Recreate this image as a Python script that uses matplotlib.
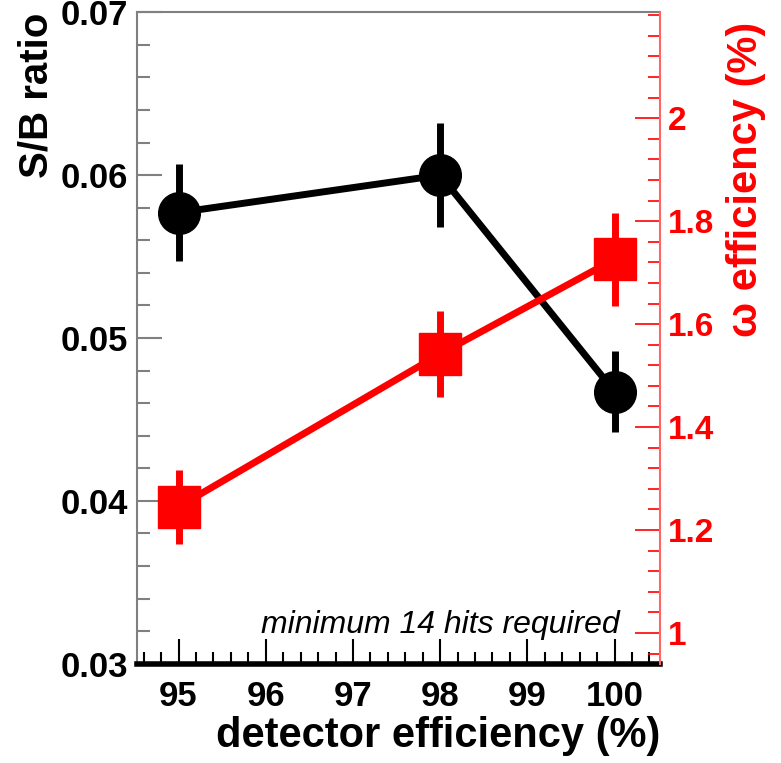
import matplotlib.pyplot as plt
from matplotlib.ticker import MultipleLocator

plt.rcParams["font.family"] = ["Liberation Sans", "DejaVu Sans"]

det_eff = [95, 98, 100]
sb_ratio = [0.0577, 0.0600, 0.0467]
sb_err = [0.0030, 0.0032, 0.0025]
omega_eff = [1.245, 1.542, 1.726]
omega_err = [0.072, 0.083, 0.090]

fig = plt.figure(figsize=(7.81, 7.63), dpi=100)
ax = fig.add_axes([0.175, 0.130, 0.670, 0.854])
ax2 = ax.twinx()

ax.set_xlim(94.52, 100.52)
ax.set_ylim(0.03, 0.07)
ax2.set_ylim(0.94, 2.206)

# black S/B series
ax.errorbar(det_eff, sb_ratio, yerr=sb_err, color="black", lw=5, elinewidth=5,
            marker="o", ms=30, capsize=0, zorder=3)
# red omega efficiency series
ax2.errorbar(det_eff, omega_eff, yerr=omega_err, color="red", lw=5, elinewidth=5,
             marker="s", ms=30, capsize=0, zorder=3)

ax.set_xticks(range(95, 101))
ax.xaxis.set_minor_locator(MultipleLocator(0.2))
ax.set_yticks([0.03, 0.04, 0.05, 0.06, 0.07])
ax.set_yticklabels(["0.03", "0.04", "0.05", "0.06", "0.07"])
ax.yaxis.set_minor_locator(MultipleLocator(0.002))
ax2.set_yticks([1, 1.2, 1.4, 1.6, 1.8, 2])
ax2.set_yticklabels(["1", "1.2", "1.4", "1.6", "1.8", "2"])
ax2.yaxis.set_minor_locator(MultipleLocator(0.04))

ax.tick_params(axis="y", which="both", direction="in", color="gray", width=1.5,
               labelsize=25, pad=6)
ax.tick_params(axis="y", which="major", length=18)
ax.tick_params(axis="y", which="minor", length=9)
ax.tick_params(axis="x", which="both", direction="in", color="black", width=1.5,
               labelsize=25, pad=12, top=False)
ax.tick_params(axis="x", which="major", length=18)
ax.tick_params(axis="x", which="minor", length=9)
ax2.tick_params(axis="y", which="both", direction="in", color="red", width=1.2,
                labelsize=24, labelcolor="red", pad=6)
ax2.tick_params(axis="y", which="major", length=18)
ax2.tick_params(axis="y", which="minor", length=9)

for lab in ax.get_xticklabels() + ax.get_yticklabels() + ax2.get_yticklabels():
    lab.set_fontweight("bold")

ax.spines["left"].set_color("gray")
ax.spines["left"].set_linewidth(1.5)
ax.spines["top"].set_color("gray")
ax.spines["top"].set_linewidth(1.5)
ax.spines["bottom"].set_linewidth(4)
ax2.spines["right"].set_color("#ff6666")
ax2.spines["right"].set_linewidth(1.5)
ax2.spines["left"].set_visible(False)
ax2.spines["top"].set_visible(False)
ax2.spines["bottom"].set_visible(False)
ax.spines["right"].set_visible(False)

ax.set_xlabel("detector efficiency (%)", fontsize=30, fontweight="bold",
              loc="right", labelpad=2)
ax.set_ylabel("S/B ratio", fontsize=29, fontweight="bold", loc="top", labelpad=4)
ax2.set_ylabel("\u03c9 efficiency (%)", fontsize=30, fontweight="bold",
               color="red", loc="top", labelpad=8)
ax2.yaxis.label.set_y(0.985)

ax.text(0.923, 0.06, "minimum 14 hits required", transform=ax.transAxes,
        ha="right", va="center", fontsize=23, style="italic")

fig.savefig("out.png", dpi=100)
